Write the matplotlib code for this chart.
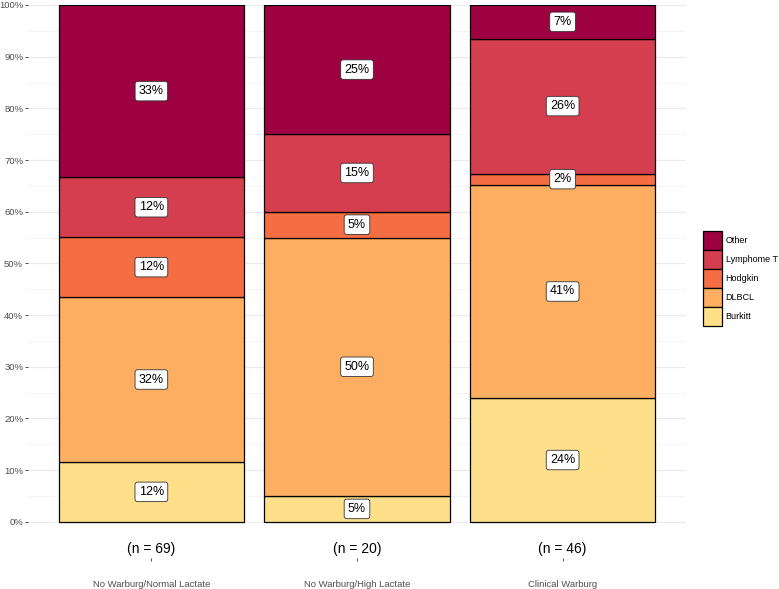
import matplotlib.pyplot as plt
import numpy as np
from matplotlib.patches import Patch

plt.rcParams['font.family'] = ['Liberation Sans', 'DejaVu Sans']

# groups and counts per lymphoma subtype
groups = ['No Warburg/Normal Lactate', 'No Warburg/High Lactate', 'Clinical Warburg']
subtypes = ['Burkitt', 'DLBCL', 'Hodgkin', 'Lymphome T', 'Other']
counts = {
    'Burkitt':    [8, 1, 11],
    'DLBCL':      [22, 10, 19],
    'Hodgkin':    [8, 1, 1],
    'Lymphome T': [8, 3, 12],
    'Other':      [23, 5, 3],
}
colors = {
    'Burkitt': '#FEE08B',
    'DLBCL': '#FDAE61',
    'Hodgkin': '#F46D43',
    'Lymphome T': '#D53E4F',
    'Other': '#9E0142',
}

totals = np.sum([counts[s] for s in subtypes], axis=0)
x = np.arange(1, len(groups) + 1)

fig = plt.figure(figsize=(7.79, 5.89), dpi=100)
ax = fig.add_axes([28 / 779, 31 / 589, 658 / 779, 553 / 589])

# grid lines (theme_minimal look)
for v in np.arange(0, 1.01, 0.1):
    ax.axhline(v, color='#EBEBEB', lw=0.9, zorder=0)
for v in np.arange(0.05, 1.0, 0.1):
    ax.axhline(v, color='#F3F3F3', lw=0.6, zorder=0)

bottom = np.zeros(len(groups))
for s in subtypes:
    frac = np.array(counts[s]) / totals
    ax.bar(x, frac, width=0.9, bottom=bottom, color=colors[s],
           edgecolor='black', linewidth=0.9, zorder=2)
    for xi, b, f in zip(x, bottom, frac):
        ax.text(xi, b + f / 2, f'{f * 100:.0f}%', ha='center', va='center',
                fontsize=9, zorder=3,
                bbox=dict(boxstyle='round,pad=0.3,rounding_size=0.2',
                          fc='white', ec='#333333', lw=0.6))
    bottom += frac

# sample sizes below bars
for xi, n in zip(x, totals):
    ax.text(xi, -0.052, f'(n = {n})', ha='center', va='center', fontsize=10,
            color='black', clip_on=False)

ax.set_xlim(0.4, 3.6)
ax.set_ylim(-0.07, 1.0)
ax.set_yticks(np.arange(0, 1.01, 0.1))
ax.set_yticklabels([f'{v}%' for v in range(0, 101, 10)])
ax.set_xticks(x)
ax.set_xticklabels(groups)
ax.tick_params(axis='both', colors='#333333', labelcolor='#4D4D4D',
               labelsize=6.8, length=2, width=0.6, pad=1.5)
ax.tick_params(axis='x', pad=14)
for sp in ax.spines.values():
    sp.set_visible(False)

handles = [Patch(facecolor=colors[s], edgecolor='black', lw=0.9, label=s)
           for s in reversed(subtypes)]
fig.legend(handles=handles, loc='center left', bbox_to_anchor=(0.902, 0.527),
           frameon=False, fontsize=6.5, handlelength=2.1, handleheight=2.85,
           handletextpad=0.45, labelspacing=0.0, borderaxespad=0,
           borderpad=0)

plt.savefig('out.png', dpi=100)
